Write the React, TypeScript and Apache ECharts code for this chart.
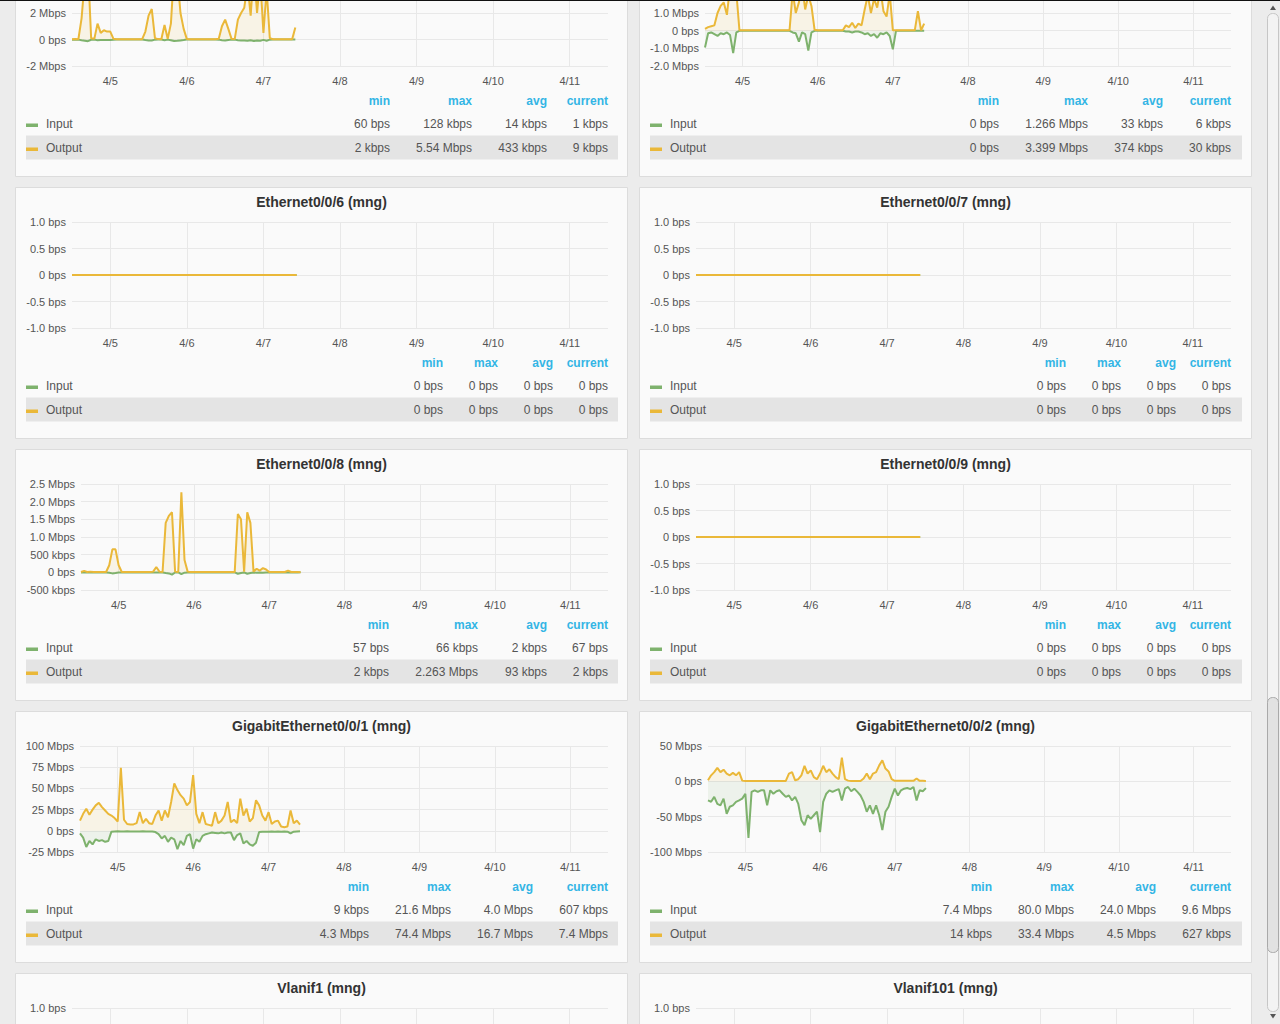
import React, { useEffect, useRef } from "react";
import * as echarts from "echarts";

// hours since 4/4 00:00 (samples from 4/4 12:00 to 4/7 10:00)
const HOURS = [
  12, 13, 14, 15, 16, 17, 18, 19, 20, 21,
  22, 23, 24, 25, 26, 27, 28, 29, 30, 31,
  32, 33, 34, 35, 36, 37, 38, 39, 40, 41,
  42, 43, 44, 45, 46, 47, 48, 49, 50, 51,
  52, 53, 54, 55, 56, 57, 58, 59, 60, 61,
  62, 63, 64, 65, 66, 67, 68, 69, 70, 71,
  72, 73, 74, 75, 76, 77, 78, 79, 80, 81,
  82,
];
const FLAT_HOURS = [12, 82.4];
const FLAT_ZERO = [0, 0];

const DAY_TICKS = [24, 48, 72, 96, 120, 144, 168];
const DAY_LABELS = ["4/5", "4/6", "4/7", "4/8", "4/9", "4/10", "4/11"];
const STAT_HEADERS = ["min", "max", "avg", "current"];
const SERIES_NAMES = ["Input", "Output"];

// Mbps
const ETH4_OUT = [
  0.02, 0.03, 0.02, 1.6, 4.5, 5.54, 0.1, 0.05, 1.2, 0.5,
  0.7, 0.6, 0.6, 0.05, 0.02, 0.02, 0.02, 0.02, 0.02, 0.02,
  0.02, 0.02, 0.02, 0.6, 1.8, 2.3, 0.1, 0.03, 0.02, 1.1,
  0.05, 1.2, 5.2, 4.8, 2.0, 0.8, 0.03, 0.02, 0.02, 0.02,
  0.02, 0.02, 0.02, 0.02, 0.02, 0.02, 0.05, 1.0, 1.5, 0.8,
  0.05, 0.03, 1.5, 2.0, 2.4, 4.2, 1.8, 5.3, 2.0, 4.6,
  0.5, 3.8, 0.1, 0.02, 0.02, 0.02, 0.02, 0.02, 0.02, 0.02,
  0.9,
];
const ETH4_IN = [
  0.01, 0.01, 0.01, 0.06, 0.09, 0.128, 0.02, 0.01, 0.05, 0.03,
  0.04, 0.03, 0.03, 0.01, 0.005, 0.005, 0.005, 0.005, 0.005, 0.005,
  0.005, 0.005, 0.005, 0.04, 0.07, 0.08, 0.01, 0.005, 0.005, 0.05,
  0.01, 0.05, 0.11, 0.1, 0.07, 0.04, 0.005, 0.005, 0.005, 0.005,
  0.005, 0.005, 0.005, 0.005, 0.005, 0.005, 0.01, 0.05, 0.07, 0.04,
  0.01, 0.01, 0.06, 0.08, 0.07, 0.1, 0.06, 0.12, 0.07, 0.1,
  0.03, 0.09, 0.01, 0.005, 0.005, 0.005, 0.005, 0.005, 0.005, 0.005,
  0.001,
];
const ETH5_OUT = [
  0.1, 0.2, 0.25, 0.3, 1.0, 1.4, 1.6, 0.9, 2.5, 3.399,
  2.2, 0.02, 0.02, 0.02, 0.02, 0.02, 0.02, 0.02, 0.02, 0.02,
  0.02, 0.02, 0.02, 0.02, 0.02, 0.02, 0.02, 0.02, 2.2, 1.0,
  1.6, 2.6, 1.2, 2.0, 1.4, 0.05, 0.02, 0.02, 0.02, 0.02,
  0.02, 0.02, 0.02, 0.02, 0.02, 0.3, 0.2, 0.45, 0.15, 0.4,
  0.3, 1.2, 2.0, 1.0, 1.8, 1.3, 2.4, 1.1, 0.8, 2.1,
  0.02, 0.02, 0.02, 0.02, 0.02, 0.02, 0.02, 0.02, 1.1, 0.02,
  0.4,
];
const ETH5_IN = [
  0.95, 0.15, 0.1, 0.2, 0.3, 0.15, 0.2, 0.1, 0.25, 1.266,
  0.1, 0.01, 0.01, 0.01, 0.01, 0.01, 0.01, 0.01, 0.01, 0.01,
  0.01, 0.01, 0.01, 0.01, 0.01, 0.01, 0.01, 0.01, 0.1, 0.15,
  0.62, 0.1, 0.2, 1.13, 0.1, 0.01, 0.01, 0.01, 0.01, 0.01,
  0.01, 0.01, 0.01, 0.01, 0.01, 0.05, 0.05, 0.1, 0.05, 0.05,
  0.1, 0.2, 0.15, 0.3, 0.2, 0.4, 0.15, 0.2, 0.1, 0.3,
  1.06, 0.01, 0.01, 0.01, 0.01, 0.01, 0.01, 0.01, 0.01, 0.01,
  0.006,
];
const ETH8_OUT = [
  0.01, 0.04, 0.01, 0.02, 0.01, 0.01, 0.01, 0.01, 0.01, 0.2,
  0.65, 0.65, 0.2, 0.01, 0.01, 0.01, 0.01, 0.01, 0.01, 0.01,
  0.01, 0.01, 0.01, 0.02, 0.15, 0.02, 0.01, 1.4, 1.6, 1.7,
  0.02, 0.01, 2.263, 0.35, 0.02, 0.01, 0.01, 0.01, 0.01, 0.01,
  0.01, 0.01, 0.01, 0.01, 0.01, 0.01, 0.01, 0.01, 0.01, 0.01,
  1.65, 1.5, 0.02, 1.7, 1.4, 0.02, 0.1, 0.05, 0.12, 0.08,
  0.01, 0.01, 0.01, 0.01, 0.01, 0.01, 0.05, 0.01, 0.01, 0.01,
  0.002,
];
const ETH8_IN = [
  0.002, 0.002, 0.002, 0.002, 0.002, 0.002, 0.002, 0.002, 0.002, 0.01,
  0.03, 0.02, 0.005, 0.002, 0.002, 0.002, 0.002, 0.002, 0.002, 0.002,
  0.002, 0.002, 0.002, 0.002, 0.002, 0.002, 0.002, 0.02, 0.03, 0.066,
  0.005, 0.002, 0.05, 0.01, 0.002, 0.002, 0.002, 0.002, 0.002, 0.002,
  0.002, 0.002, 0.002, 0.002, 0.002, 0.002, 0.002, 0.002, 0.002, 0.002,
  0.04, 0.02, 0.002, 0.04, 0.02, 0.002, 0.01, 0.005, 0.01, 0.005,
  0.002, 0.002, 0.002, 0.002, 0.002, 0.002, 0.002, 0.002, 0.002, 0.002,
  0.0001,
];
const GE1_OUT = [
  12, 20, 26, 19, 25, 30, 33, 28, 24, 20,
  18, 15, 11, 74.4, 13, 8, 7.5, 7.5, 9, 22,
  9, 14, 9, 8, 18, 24, 12, 24, 16, 34,
  56, 48, 42, 38, 30, 34, 65.6, 20, 9, 22,
  8, 7, 6, 22, 9, 12, 18, 34, 10, 13,
  9, 38, 18, 26, 11, 15, 36, 30, 18, 12,
  22, 8, 11, 12, 5, 4.3, 5, 24, 9, 12,
  7.4,
];
const GE1_IN = [
  3, 8, 19, 12, 16, 10, 12, 11, 13, 12,
  1, 0.8, 0.6, 0.8, 0.7, 0.6, 0.8, 0.9, 0.7, 0.8,
  0.6, 0.8, 0.7, 0.9, 1.5, 4, 9, 6, 13, 8,
  10, 21.6, 12, 17, 6, 4, 21, 10, 13, 6,
  4, 3, 2, 2.5, 3, 2, 3, 2, 2, 11,
  5, 3, 15, 12, 16, 17.7, 14, 1.5, 1, 1,
  1, 0.9, 1, 0.8, 1, 0.9, 1, 3, 1, 0.8,
  0.607,
];
const GE2_OUT = [
  1.4, 8.5, 13, 19, 13, 16.5, 11, 8.5, 12, 8.5,
  13, 1, 0.5, 0.5, 0.5, 0.5, 0.5, 0.5, 0.5, 0.5,
  0.5, 0.5, 0.5, 0.5, 0.5, 0.6, 11, 13, 1.5, 3,
  8.5, 22, 11, 15.5, 6, 3, 11, 22, 13, 17,
  11, 6, 3, 33.4, 3, 1, 0.5, 0.5, 0.5, 0.5,
  4, 11, 3, 11, 13, 22.6, 29.7, 18, 14, 3,
  0.7, 0.7, 0.7, 0.7, 0.7, 0.7, 0.7, 4, 0.7, 0.7,
  0.627,
];
const GE2_IN = [
  27, 29, 22, 32, 34, 24.5, 46, 36, 34, 29,
  27, 24.5, 17.5, 80, 15, 12.7, 15, 12.7, 12.7, 34,
  12.7, 17.5, 14, 12.7, 17.5, 22, 20, 27, 22, 32,
  55, 62, 48, 53, 48, 43, 72, 29, 17.5, 12.7,
  15, 12.7, 11, 27, 10.4, 8, 14, 10.4, 15, 20,
  29, 43, 34, 46, 34, 48, 69, 43, 36, 22,
  10.4, 20, 12.7, 10.4, 9.4, 11, 8, 27, 12.7, 14,
  9.6,
];

// legend statistics [min, max, avg, current]
const ETH4_IN_STATS = ["60 bps", "128 kbps", "14 kbps", "1 kbps"];
const ETH4_OUT_STATS = ["2 kbps", "5.54 Mbps", "433 kbps", "9 kbps"];
const ETH5_IN_STATS = ["0 bps", "1.266 Mbps", "33 kbps", "6 kbps"];
const ETH5_OUT_STATS = ["0 bps", "3.399 Mbps", "374 kbps", "30 kbps"];
const ZERO_STATS = ["0 bps", "0 bps", "0 bps", "0 bps"];
const ETH8_IN_STATS = ["57 bps", "66 kbps", "2 kbps", "67 bps"];
const ETH8_OUT_STATS = ["2 kbps", "2.263 Mbps", "93 kbps", "2 kbps"];
const GE1_IN_STATS = ["9 kbps", "21.6 Mbps", "4.0 Mbps", "607 kbps"];
const GE1_OUT_STATS = ["4.3 Mbps", "74.4 Mbps", "16.7 Mbps", "7.4 Mbps"];
const GE2_IN_STATS = ["7.4 Mbps", "80.0 Mbps", "24.0 Mbps", "9.6 Mbps"];
const GE2_OUT_STATS = ["14 kbps", "33.4 Mbps", "4.5 Mbps", "627 kbps"];

const FONT = '"Liberation Sans", Arial, Helvetica, sans-serif';
const GREEN = "#7eb26d";
const YELLOW = "#eab839";
const GRID_COLOR = "#e8e8e8";
const AXIS_TEXT = "#555";
// the chart canvas starts OFF px above the viewport so that panels cut by the page edge keep their size
const OFF = 100;
const CANVAS_H = 1024 + 2 * OFF;
const ROW_TOPS = [-74.5, 187.5, 449.5, 711.5, 973.5];
const COL_LEFTS = [15.5, 639.5];

const FORMATTERS: Record<string, (v: number) => string> = {
  mbpsInt: (v) => (v === 0 ? "0 bps" : `${v} Mbps`),
  mbps1: (v) => (v === 0 ? "0 bps" : `${v.toFixed(1)} Mbps`),
  bps1: (v) => (v === 0 ? "0 bps" : `${v.toFixed(1)} bps`),
  mixed: (v) =>
    v === 0 ? "0 bps" : Math.abs(v) >= 1 ? `${v.toFixed(1)} Mbps` : `${Math.round(v * 1000)} kbps`,
};

type Panel = {
  title: string | null;
  col: number;
  row: number;
  gridLeft: number;
  yMin: number;
  yMax: number;
  yStep: number;
  fmt: string;
  labelRange: [number, number]; // y labels that fall inside the visible page
  xLabels: boolean;
  x: number[];
  input: number[];
  output: number[];
  stats: string[][] | null;
  cols: number[];
};

const PANELS: Panel[] = [
  { title: null, col: 0, row: 0, gridLeft: 72, yMin: -2, yMax: 6, yStep: 2, fmt: "mbpsInt", labelRange: [-2, 2], xLabels: true, x: HOURS, input: ETH4_IN, output: ETH4_OUT, stats: [ETH4_IN_STATS, ETH4_OUT_STATS], cols: [390, 472, 547, 608] },
  { title: null, col: 1, row: 0, gridLeft: 705, yMin: -2, yMax: 4, yStep: 1, fmt: "mbps1", labelRange: [-2, 1], xLabels: true, x: HOURS, input: ETH5_IN, output: ETH5_OUT, stats: [ETH5_IN_STATS, ETH5_OUT_STATS], cols: [999, 1088, 1163, 1231] },
  { title: "Ethernet0/0/6 (mng)", col: 0, row: 1, gridLeft: 72, yMin: -1, yMax: 1, yStep: 0.5, fmt: "bps1", labelRange: [-1, 1], xLabels: true, x: FLAT_HOURS, input: FLAT_ZERO, output: FLAT_ZERO, stats: [ZERO_STATS, ZERO_STATS], cols: [443, 498, 553, 608] },
  { title: "Ethernet0/0/7 (mng)", col: 1, row: 1, gridLeft: 696, yMin: -1, yMax: 1, yStep: 0.5, fmt: "bps1", labelRange: [-1, 1], xLabels: true, x: FLAT_HOURS, input: FLAT_ZERO, output: FLAT_ZERO, stats: [ZERO_STATS, ZERO_STATS], cols: [1066, 1121, 1176, 1231] },
  { title: "Ethernet0/0/8 (mng)", col: 0, row: 2, gridLeft: 81, yMin: -0.5, yMax: 2.5, yStep: 0.5, fmt: "mixed", labelRange: [-0.5, 2.5], xLabels: true, x: HOURS, input: ETH8_IN, output: ETH8_OUT, stats: [ETH8_IN_STATS, ETH8_OUT_STATS], cols: [389, 478, 547, 608] },
  { title: "Ethernet0/0/9 (mng)", col: 1, row: 2, gridLeft: 696, yMin: -1, yMax: 1, yStep: 0.5, fmt: "bps1", labelRange: [-1, 1], xLabels: true, x: FLAT_HOURS, input: FLAT_ZERO, output: FLAT_ZERO, stats: [ZERO_STATS, ZERO_STATS], cols: [1066, 1121, 1176, 1231] },
  { title: "GigabitEthernet0/0/1 (mng)", col: 0, row: 3, gridLeft: 80, yMin: -25, yMax: 100, yStep: 25, fmt: "mbpsInt", labelRange: [-25, 100], xLabels: true, x: HOURS, input: GE1_IN, output: GE1_OUT, stats: [GE1_IN_STATS, GE1_OUT_STATS], cols: [369, 451, 533, 608] },
  { title: "GigabitEthernet0/0/2 (mng)", col: 1, row: 3, gridLeft: 708, yMin: -100, yMax: 50, yStep: 50, fmt: "mbpsInt", labelRange: [-100, 50], xLabels: true, x: HOURS, input: GE2_IN, output: GE2_OUT, stats: [GE2_IN_STATS, GE2_OUT_STATS], cols: [992, 1074, 1156, 1231] },
  { title: "Vlanif1 (mng)", col: 0, row: 4, gridLeft: 72, yMin: -1, yMax: 1, yStep: 0.5, fmt: "bps1", labelRange: [1, 1], xLabels: false, x: FLAT_HOURS, input: FLAT_ZERO, output: FLAT_ZERO, stats: null, cols: [] },
  { title: "Vlanif101 (mng)", col: 1, row: 4, gridLeft: 696, yMin: -1, yMax: 1, yStep: 0.5, fmt: "bps1", labelRange: [1, 1], xLabels: false, x: FLAT_HOURS, input: FLAT_ZERO, output: FLAT_ZERO, stats: null, cols: [] },
];

function text(str: string, x: number, y: number, font: string, fill: string, align: string, z = 10) {
  return {
    type: "text",
    z,
    silent: true,
    style: {
      text: str,
      x,
      y: y + OFF,
      font,
      fill,
      textAlign: align,
      align,
      textVerticalAlign: "middle",
      verticalAlign: "middle",
    },
  };
}

function rect(x: number, y: number, w: number, h: number, style: any, z: number, r = 0) {
  return { type: "rect", z, silent: true, shape: { x, y: y + OFF, width: w, height: h, r }, style };
}

function buildOption() {
  const grid: any[] = [];
  const xAxis: any[] = [];
  const yAxis: any[] = [];
  const series: any[] = [];
  const graphic: any[] = [];

  PANELS.forEach((p, i) => {
    const T = ROW_TOPS[p.row];
    const px = COL_LEFTS[p.col];
    const gridRight = p.col === 0 ? 608 : 1231;

    graphic.push(rect(px, T, 612, 251, { fill: "#fafafa", stroke: "#dcdcdc", lineWidth: 1 }, -10));
    if (p.title) {
      graphic.push(text(p.title, px + 306, T + 14.5, `bold 14px ${FONT}`, "#333", "center"));
    }
    if (p.stats) {
      p.cols.forEach((cx, k) => {
        graphic.push(text(STAT_HEADERS[k], cx, T + 175.5, `bold 12px ${FONT}`, "#33b5e5", "right"));
      });
      graphic.push(rect(px + 10.5, T + 210, 592, 24, { fill: "#e4e4e4" }, -9));
      [0, 1].forEach((r) => {
        const ry = T + 198.5 + r * 24;
        graphic.push(rect(px + 10.5, ry - 0.5, 12, 3.5, { fill: r === 0 ? GREEN : YELLOW }, 10));
        graphic.push(text(SERIES_NAMES[r], px + 30.5, ry, `12px ${FONT}`, "#555", "left"));
        p.stats![r].forEach((s, k) => {
          graphic.push(text(s, p.cols[k], ry, `12px ${FONT}`, "#555", "right"));
        });
      });
    }

    grid.push({ left: p.gridLeft, top: T + 34.5 + OFF, width: gridRight - p.gridLeft, height: 106 });
    xAxis.push({
      type: "value",
      gridIndex: i,
      min: 12,
      max: 180,
      axisLine: { show: false },
      axisTick: { show: false, customValues: DAY_TICKS },
      splitLine: { show: true, lineStyle: { color: GRID_COLOR, width: 1 } },
      axisLabel: {
        show: p.xLabels,
        customValues: DAY_TICKS,
        formatter: (v: number) => {
          const idx = DAY_TICKS.indexOf(v);
          return idx >= 0 ? DAY_LABELS[idx] : "";
        },
        margin: 9,
        color: AXIS_TEXT,
        fontSize: 11,
        fontFamily: FONT,
      },
    });
    const fmt = FORMATTERS[p.fmt];
    yAxis.push({
      type: "value",
      gridIndex: i,
      min: p.yMin,
      max: p.yMax,
      interval: p.yStep,
      axisLine: { show: false },
      axisTick: { show: false },
      splitLine: { show: true, lineStyle: { color: GRID_COLOR, width: 1 } },
      axisLabel: {
        formatter: (v: number) =>
          v >= p.labelRange[0] - 1e-9 && v <= p.labelRange[1] + 1e-9 ? fmt(v) : "",
        margin: 6,
        color: AXIS_TEXT,
        fontSize: 11,
        fontFamily: FONT,
      },
    });
    series.push({
      type: "line",
      name: `${i}-Input`,
      xAxisIndex: i,
      yAxisIndex: i,
      data: p.x.map((h, k) => [h, -p.input[k]]),
      showSymbol: false,
      symbol: "none",
      lineStyle: { color: GREEN, width: 2 },
      itemStyle: { color: GREEN },
      areaStyle: { color: GREEN, opacity: 0.1 },
      z: 2,
    });
    series.push({
      type: "line",
      name: `${i}-Output`,
      xAxisIndex: i,
      yAxisIndex: i,
      data: p.x.map((h, k) => [h, p.output[k]]),
      showSymbol: false,
      symbol: "none",
      lineStyle: { color: YELLOW, width: 2 },
      itemStyle: { color: YELLOW },
      areaStyle: { color: YELLOW, opacity: 0.1 },
      z: 3,
    });
  });

  // top edge line and scrollbar
  graphic.push(rect(0, 0, 1280, 1, { fill: "#111" }, 20));
  graphic.push(rect(1267.5, 13.5, 11, 998, { fill: "#f3f3f3", stroke: "#c6c6c6", lineWidth: 1 }, 20, 5));
  graphic.push(rect(1267.5, 697.5, 11, 255, { fill: "#e2e2e2", stroke: "#a9a9a9", lineWidth: 1 }, 21, 5));
  graphic.push({
    type: "polygon",
    z: 21,
    silent: true,
    shape: { points: [[1270, 10 + OFF], [1276, 10 + OFF], [1273, 5.5 + OFF]] },
    style: { fill: "#555" },
  });
  graphic.push({
    type: "polygon",
    z: 21,
    silent: true,
    shape: { points: [[1270, 1014 + OFF], [1276, 1014 + OFF], [1273, 1018.5 + OFF]] },
    style: { fill: "#555" },
  });

  return {
    animation: false,
    backgroundColor: "#ececec",
    textStyle: { fontFamily: FONT },
    grid,
    xAxis,
    yAxis,
    series,
    graphic,
  };
}

export default function App() {
  const ref = useRef<HTMLDivElement>(null);
  useEffect(() => {
    document.body.style.margin = "0";
    document.body.style.overflow = "hidden";
    const chart = echarts.init(ref.current!, null, { renderer: "svg" });
    chart.setOption(buildOption() as any);
    return () => chart.dispose();
  }, []);
  return (
    <div
      ref={ref}
      style={{ position: "absolute", left: 0, top: -OFF, width: 1280, height: CANVAS_H }}
    />
  );
}
